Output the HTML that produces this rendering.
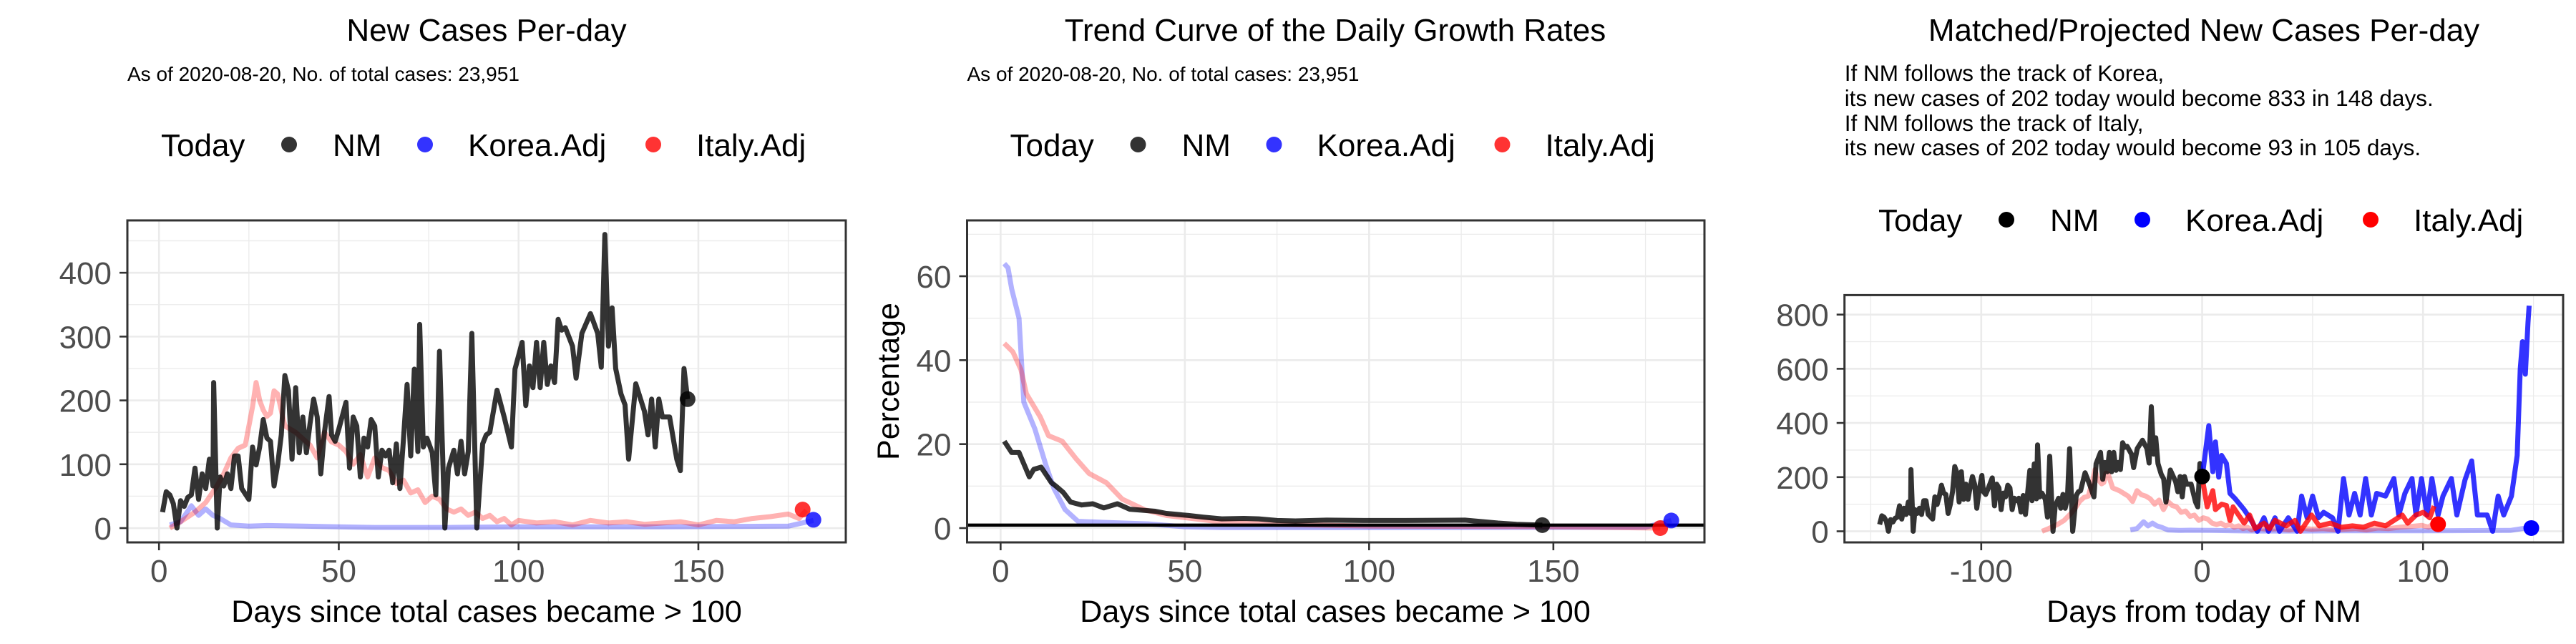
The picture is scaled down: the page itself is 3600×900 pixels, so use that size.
<!DOCTYPE html>
<html><head><meta charset="utf-8">
<style>
html,body{margin:0;padding:0;background:#fff;}
svg{display:block;font-family:"Liberation Sans",Arial,sans-serif;}
</style></head>
<body>
<svg id="chart" width="3600" height="900" viewBox="0 0 3600 900" xmlns="http://www.w3.org/2000/svg">
<rect x="0" y="0" width="3600" height="900" fill="#fff"/>
<defs>
<clipPath id="clip1"><rect x="178" y="308" width="1004" height="450"/></clipPath>
<clipPath id="clip2"><rect x="1351.5" y="308" width="1030.5" height="450"/></clipPath>
<clipPath id="clip3"><rect x="2577.7" y="412.4" width="1004.3" height="345.6"/></clipPath>
</defs>
<text x="680" y="57" font-size="44" text-anchor="middle">New Cases Per-day</text>
<text x="178" y="113" font-size="28">As of 2020-08-20, No. of total cases: 23,951</text>
<text x="1866" y="57" font-size="44" text-anchor="middle">Trend Curve of the Daily Growth Rates</text>
<text x="1351.5" y="113" font-size="28">As of 2020-08-20, No. of total cases: 23,951</text>
<text x="3080" y="57" font-size="44" text-anchor="middle">Matched/Projected New Cases Per-day</text>
<g font-size="31.5">
<text x="2577.7" y="113">If NM follows the track of Korea,</text>
<text x="2577.7" y="148">its new cases of 202 today would become 833 in 148 days.</text>
<text x="2577.7" y="183">If NM follows the track of Italy,</text>
<text x="2577.7" y="217">its new cases of 202 today would become 93 in 105 days.</text>
</g>
<g id="layer"></g>
</svg>
<script>
// ---------- data ----------
const nmDays = [1,2,3,4,5,6,7,8,9,10,11,12,13,14,15,15.2,16.2,17,18,19,20,21,22,23,25,26,27,28,29,30,31,32,33,34,35,36,37,38,39,40,41,42,43,44,45,46,47.3,48,49,50,52,53,54,55,56,57,58,59,60,61,62,63,64,65,66,67,68,69,70,71,72,72.5,73.5,74.5,76,77,78,79.5,80.5,82,83,84,85,86,87,88.4,90,91,92,94,96,98,99,101,102,103,104,105,106,107,108,109,110,111,112,113,115,116,117.6,120,122,123,124,125,126,127,128.5,129.6,130.6,132.6,135,136,137,138,139,140,142,144,145,146,147];
const nmCases = [25,57,52,38,0,43,34,48,52,94,45,85,62,108,66,228,0,80,66,85,62,113,113,62,45,127,99,127,170,141,136,66,99,146,239,216,108,220,118,174,118,164,202,174,85,150,206,146,136,155,197,94,174,160,80,141,127,170,160,80,122,113,122,71,132,62,140,225,113,249,120,319,127,141,118,52,277,0,94,122,85,136,85,120,305,0,132,146,150,216,174,127,249,291,192,254,220,291,220,291,225,254,228,327,310,314,285,235,305,336,305,252,460,285,345,250,210,193,108,226,183,146,202,127,202,174,174,108,90,250,202];
const italyDays = [3,6,10,13,16,18,20,22,24,26,27,28,29,30,31,32,33,35,38,40,42,44,46,48,50,52,54,56,58,60,62,64,66,68,70,72,74,76,78,80,82,84,86,88,90,92,94,96,98,100,105,110,115,120,125,130,135,140,145,150,155,160,165,170,175,178,180];
const italyCases = [0,10,25,40,65,85,110,125,130,190,228,200,185,175,180,215,210,160,150,140,130,110,150,135,130,120,100,115,80,110,95,90,70,75,55,60,40,50,45,30,25,30,20,25,15,20,10,15,5,12,8,10,5,12,8,10,6,8,10,5,12,10,15,18,22,15,28];
const koreaDays = [3,6,9,11,13,15,17,20,25,30,40,50,60,80,100,140,175,182];
const koreaCases = [5,10,35,20,30,20,15,5,3,4,3,2,1,1,2,2,3,12];
const nmToday = [147, 202];
const italyToday = [179, 29];
const koreaToday = [182, 13];

const nmRateDays = [1,3,5,7.8,9,11,13.8,15,17,19,22,25,28,31.7,35,42,45,51,55,60,66,70,75,80,88.5,100,110,126,135,140,147];
const nmRate = [20.7,18,18,12.2,14,14.5,10.8,10,8.5,6.2,5.5,5.8,4.8,5.8,4.5,4,3.5,3,2.6,2.2,2.3,2.2,1.8,1.7,1.9,1.8,1.8,1.9,1.2,0.9,0.7];
const koreaRateDays = [1,2,3,5,6.3,9.3,12.3,14.5,17.5,21,30,40,50,60,100,175,182];
const koreaRate = [63,62,57,50,30,23.6,15,9.4,4.4,1.6,1.3,1,0.3,0.1,0.1,0.2,1.8];
const italyRateDays = [1,3.3,5.5,7,10.8,13,16.7,20.5,24,28.7,33,39,45,58.6,73.5,100,150,179];
const italyRate = [44,42,37.8,32,26.4,22,20.7,16.5,13,10.8,6.9,4.4,3,1.6,0.9,0.5,0.3,0];
const rateRefLine = 0.7;
const rateToday = {nm:[147,0.7], korea:[182,1.8], italy:[179,0]};

const italyShift = -75.5;
const koreaShift = -35.5;
const nmShift = -147;
const koreaProjDays = [0,3,4.8,6,7.5,8.8,11,12.6,15,19,21.5,25,28,30,33,35,39,43,45,47.5,50,52.7,55,59,61.5,64,66.5,69,71.5,74,76.6,79,83,86.8,89,91.8,95,96.8,99.3,101.8,104,106.8,109,112.8,115.3,119,122,124.6,129,131.5,134,136.5,140,142.6,144,145,146.3,147.5,148];
const koreaProj = [197,390,220,330,200,280,250,140,120,80,50,0,50,0,50,0,50,0,130,50,130,50,70,50,0,195,60,140,60,195,60,140,130,195,60,140,195,60,195,60,195,60,130,195,60,190,260,60,60,0,130,60,130,280,600,700,580,770,833];
const italyProjDays = [0,2.3,4.8,6,8.8,11,12.6,14,16.5,19,21.5,24,28,30.5,33,38,42,44.5,49.5,53,58,63,68,73,78,83,86.8,90.6,93,96.8,100,103,105];
const italyProj = [200,90,150,80,100,95,40,90,60,30,60,10,30,10,40,20,40,0,60,20,30,15,20,15,30,20,40,60,30,60,70,50,93];
const projToday = {nm:[0,202], korea:[149,12], italy:[106.8,26]};

// ---------- helpers ----------
const NS = "http://www.w3.org/2000/svg";
const layer = document.getElementById('layer');
function mk(tag, attrs, parent){
  const e = document.createElementNS(NS, tag);
  for (const k in attrs) e.setAttribute(k, attrs[k]);
  (parent||layer).appendChild(e);
  return e;
}
function scale(d0,d1,r0,r1){ return v => r0 + (v-d0)/(d1-d0)*(r1-r0); }

function panel(cfg){
  const g = mk('g', {});
  
  
  const X = scale(cfg.xd[0], cfg.xd[1], cfg.px[0], cfg.px[1]);
  const Y = scale(cfg.yd[0], cfg.yd[1], cfg.py[1], cfg.py[0]);
  const grid = mk('g', {}, g);
  
  
  cfg.xMinor.forEach(v => { mk('line', {x1:X(v), x2:X(v), y1:cfg.py[0], y2:cfg.py[1], stroke:'#ebebeb', 'stroke-width':1.3}, grid); });
  cfg.yMinor.forEach(v => { mk('line', {x1:cfg.px[0], x2:cfg.px[1], y1:Y(v), y2:Y(v), stroke:'#ebebeb', 'stroke-width':1.3}, grid); });
  cfg.xTicks.forEach(v => { mk('line', {x1:X(v), x2:X(v), y1:cfg.py[0], y2:cfg.py[1], stroke:'#ebebeb', 'stroke-width':2.6}, grid); });
  cfg.yTicks.forEach(v => { mk('line', {x1:cfg.px[0], x2:cfg.px[1], y1:Y(v), y2:Y(v), stroke:'#ebebeb', 'stroke-width':2.6}, grid); });
  cfg.xTicks.forEach((v,i) => {
    mk('line', {x1:X(v), x2:X(v), y1:cfg.py[1], y2:cfg.py[1]+11, stroke:'#333', 'stroke-width':2.6}, g);
    const t = mk('text', {x:X(v), y:813, 'font-size':44, fill:'#4d4d4d', 'text-anchor':'middle'}, g);
    
    
    t.textContent = cfg.xLabels[i];
  });
  cfg.yTicks.forEach((v,i) => {
    mk('line', {x1:cfg.px[0]-11, x2:cfg.px[0], y1:Y(v), y2:Y(v), stroke:'#333', 'stroke-width':2.6}, g);
    const t = mk('text', {x:cfg.px[0]-22, y:Y(v)+16, 'font-size':44, fill:'#4d4d4d', 'text-anchor':'end'}, g);
    
    
    t.textContent = cfg.yLabels[i];
  });
  const plot = mk('g', {'clip-path':'url(#'+cfg.clip+')'}, g);
  
  
  return {g, X, Y, plot, cfg};
}
function line(p, xs, ys, shift, color, opacity, width, name){
  let d = '';
  xs.forEach((x,i) => { d += (i?'L':'M') + p.X(x+shift).toFixed(1) + ',' + p.Y(ys[i]).toFixed(1); });
  const e = mk('path', {d, fill:'none', stroke:color, 'stroke-opacity':opacity, 'stroke-width':width, 'stroke-linejoin':'round'}, p.plot);
  
  
  return e;
}
function point(p, xy, color, name){
  const e = mk('circle', {cx:p.X(xy[0]), cy:p.Y(xy[1]), r:11, fill:color}, p.plot);
  
  
  return e;
}
function border(p){
  const c = p.cfg;
  const e = mk('rect', {x:c.px[0], y:c.py[0], width:c.px[1]-c.px[0], height:c.py[1]-c.py[0], fill:'none', stroke:'#333', 'stroke-width':3}, p.g);
  
  
}
function legend(x0, base, colors, name){
  const g = mk('g', {'font-size':44});
  
  
  const t = mk('text', {x:x0, y:base}, g); t.textContent = 'Today';
  const items = [['NM',179,240],['Korea.Adj',369,429],['Italy.Adj',688,748]];
  items.forEach((it,i) => {
    const c = mk('circle', {cx:x0+it[1], cy:base-16, r:11, fill:colors[i]}, g);
    
    
    const tx = mk('text', {x:x0+it[2], y:base}, g);
    
    
    tx.textContent = it[0];
  });
}
function axisTitle(x, y, txt, name, rot){
  const t = mk('text', {x, y, 'font-size':43, 'text-anchor':'middle', fill:'#000'});
  if (rot) t.setAttribute('transform', 'rotate(-90 '+x+' '+y+')');
  
  
  t.textContent = txt;
}

const LW = 7;
// ---------- panel 1 ----------
const p1 = panel({name:'new-cases-panel', clip:'clip1', px:[178,1182], py:[308,758], xd:[-8.8,191], yd:[-22.4,482],
  xTicks:[0,50,100,150], xLabels:['0','50','100','150'], xMinor:[25,75,125,175],
  yTicks:[0,100,200,300,400], yLabels:['0','100','200','300','400'], yMinor:[50,150,250,350,450]});
line(p1, koreaDays, koreaCases, 0, '#0000ff', 0.3, LW, 'korea-adj-line');
line(p1, italyDays, italyCases, 0, '#ff0000', 0.3, LW, 'italy-adj-line');
line(p1, nmDays, nmCases, 0, '#000', 0.8, LW, 'nm-line');
point(p1, nmToday, 'rgba(0,0,0,0.8)', 'nm-today-point');
point(p1, italyToday, 'rgba(255,0,0,0.8)', 'italy-today-point');
point(p1, koreaToday, 'rgba(0,0,255,0.8)', 'korea-today-point');
border(p1);
legend(225, 218, ['#333','#3333ff','#ff3333'], 'legend-new-cases');
axisTitle(680, 869, 'Days since total cases became > 100', 'x-axis-title');

// ---------- panel 2 ----------
const p2 = panel({name:'growth-rate-panel', clip:'clip2', px:[1351.5,2382], py:[308,758], xd:[-9.1,191], yd:[-3.41,73.3],
  xTicks:[0,50,100,150], xLabels:['0','50','100','150'], xMinor:[25,75,125,175],
  yTicks:[0,20,40,60], yLabels:['0','20','40','60'], yMinor:[10,30,50,70]});
line(p2, koreaRateDays, koreaRate, 0, '#0000ff', 0.3, LW, 'korea-rate-line');
line(p2, italyRateDays, italyRate, 0, '#ff0000', 0.3, LW, 'italy-rate-line');
line(p2, nmRateDays, nmRate, 0, '#000', 0.8, LW, 'nm-rate-line');
const hl = mk('line', {x1:1351.5, x2:2382, y1:p2.Y(rateRefLine), y2:p2.Y(rateRefLine), stroke:'#000', 'stroke-width':4.5}, p2.plot);


point(p2, rateToday.nm, 'rgba(0,0,0,0.8)', 'nm-today-point');
point(p2, rateToday.italy, 'rgba(255,0,0,0.8)', 'italy-today-point');
point(p2, rateToday.korea, 'rgba(0,0,255,0.8)', 'korea-today-point');
border(p2);
legend(1411.5, 218, ['#333','#3333ff','#ff3333'], 'legend-growth-rates');
axisTitle(1866, 869, 'Days since total cases became > 100', 'x-axis-title');
axisTitle(1256, 533, 'Percentage', 'y-axis-title', true);

// ---------- panel 3 ----------
const p3 = panel({name:'projected-panel', clip:'clip3', px:[2577.7,3582], py:[412.4,758], xd:[-161.9,163.4], yd:[-41,872],
  xTicks:[-100,0,100], xLabels:['-100','0','100'], xMinor:[-150,-50,50,150],
  yTicks:[0,200,400,600,800], yLabels:['0','200','400','600','800'], yMinor:[100,300,500,700]});
line(p3, koreaDays, koreaCases, koreaShift, '#0000ff', 0.3, LW, 'korea-matched-line');
line(p3, italyDays, italyCases, italyShift, '#ff0000', 0.3, LW, 'italy-matched-line');
line(p3, nmDays, nmCases, nmShift, '#000', 0.8, LW, 'nm-history-line');
line(p3, koreaProjDays, koreaProj, 0, '#0000ff', 0.8, LW, 'korea-projection-line');
line(p3, italyProjDays, italyProj, 0, '#ff0000', 0.8, LW, 'italy-projection-line');
point(p3, projToday.nm, '#000', 'nm-today-point');
point(p3, projToday.italy, '#ff0000', 'italy-projected-point');
point(p3, projToday.korea, '#0000ff', 'korea-projected-point');
border(p3);
legend(2625, 323, ['#000','#0000ff','#ff0000'], 'legend-projected');
axisTitle(3080, 869, 'Days from today of NM', 'x-axis-title');
</script>
</body></html>
